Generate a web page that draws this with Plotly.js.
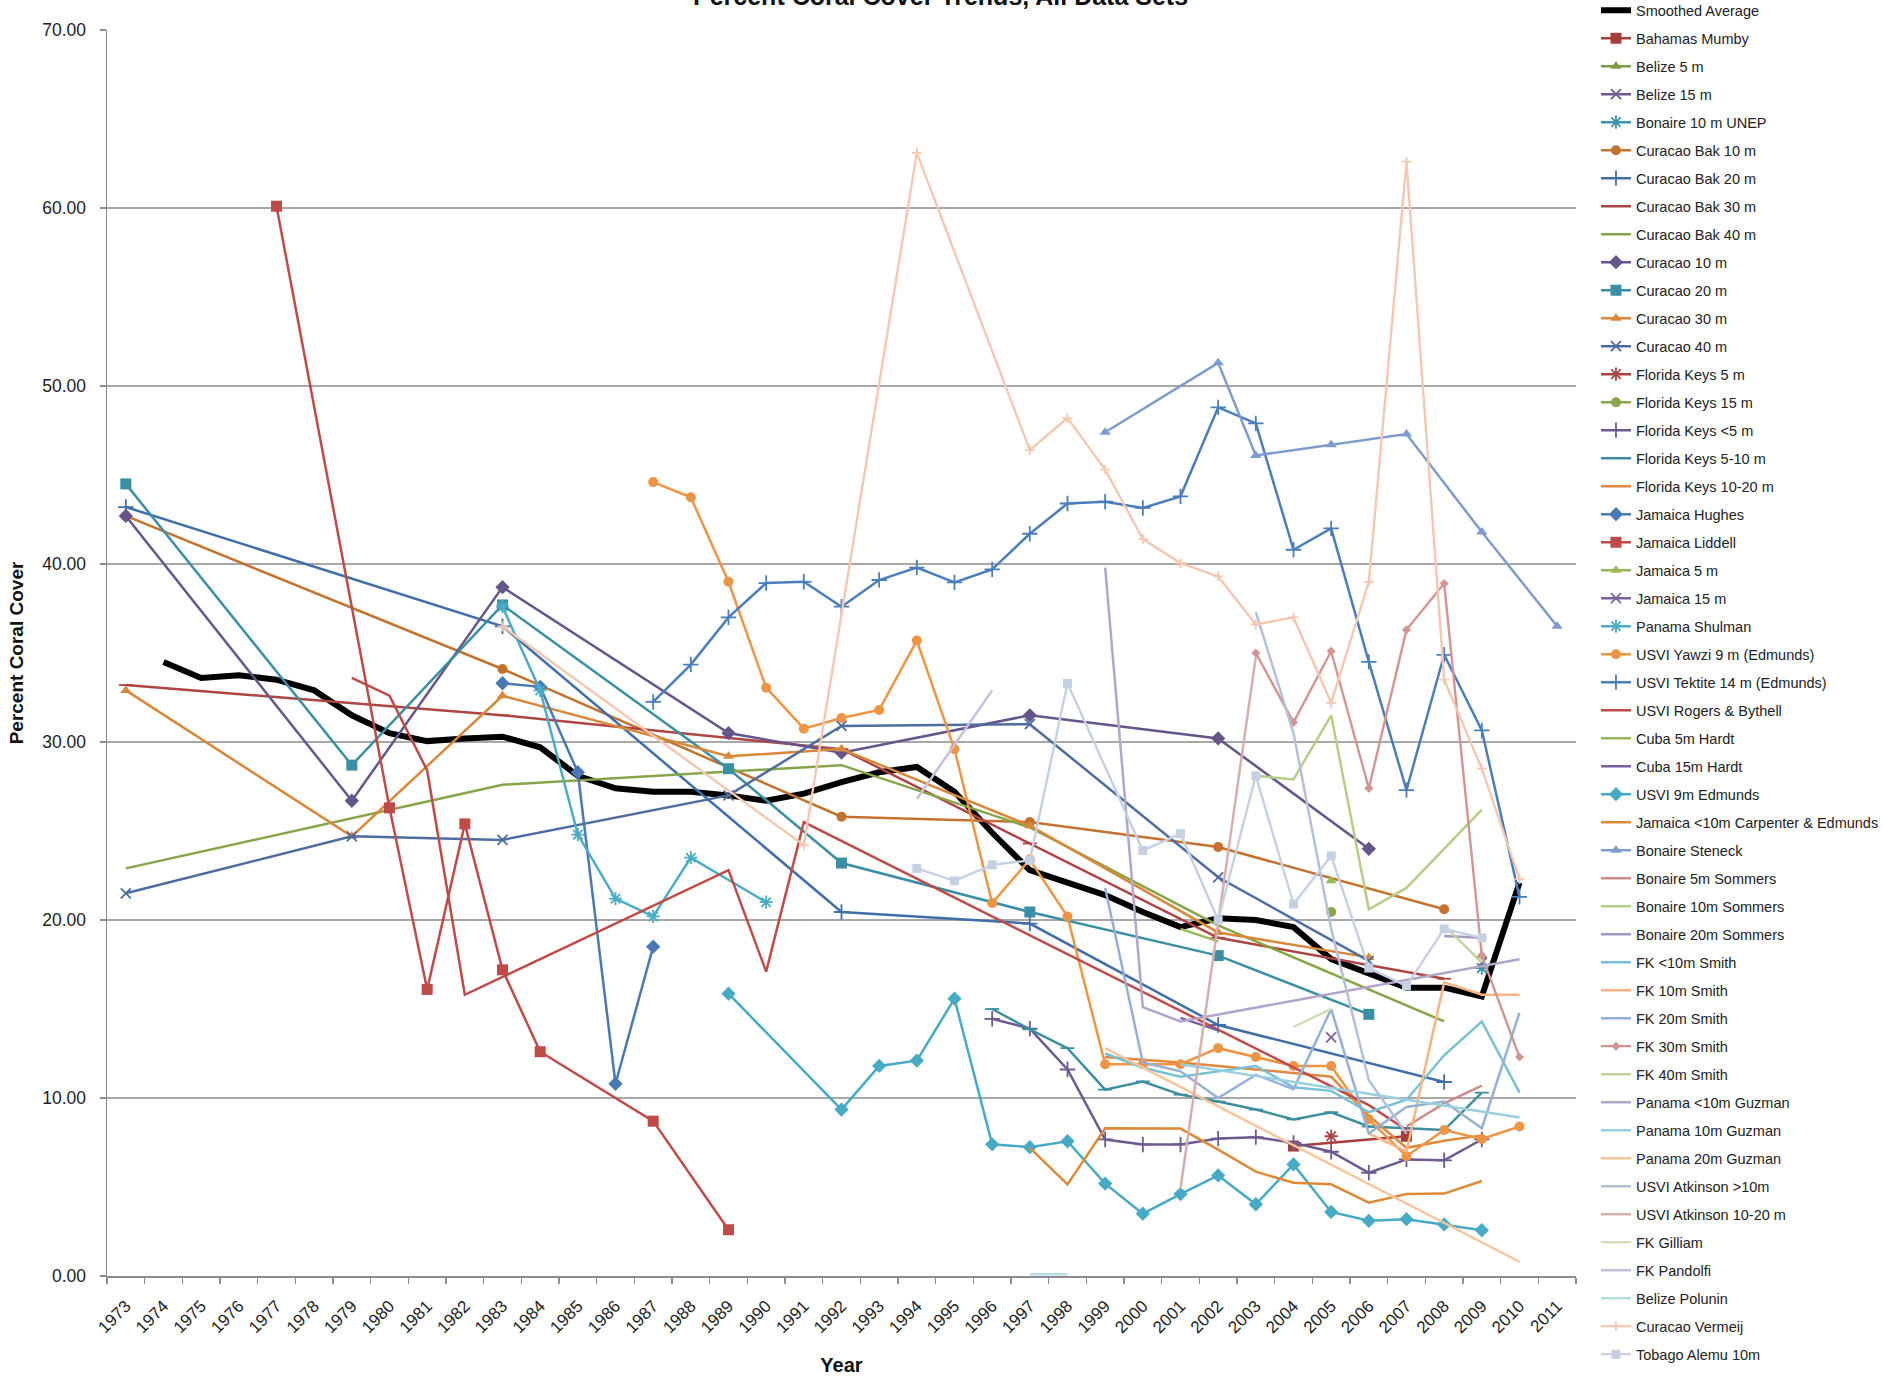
<!DOCTYPE html>
<html>
<head>
<meta charset="utf-8">
<script src="https://cdn.plot.ly/plotly-3.0.1.min.js"></script>
<style>html,body{margin:0;padding:0;background:#fff;}#chart{width:1883px;height:1376px;}</style>
</head>
<body>
<div id="chart"></div>
<script>
// ---- Category (tick) labels ----
const YEARS = ['1973','1974','1975','1976','1977','1978','1979','1980','1981','1982','1983','1984','1985','1986','1987','1988','1989','1990','1991','1992','1993','1994','1995','1996','1997','1998','1999','2000','2001','2002','2003','2004','2005','2006','2007','2008','2009','2010','2011'];

// ---- Series data (year, percent coral cover) ----
const smoothYears = [1974,1975,1976,1977,1978,1979,1980,1981,1982,1983,1984,1985,1986,1987,1988,1989,1990,1991,1992,1993,1994,1995,1996,1997,1998,1999,2000,2001,2002,2003,2004,2005,2006,2007,2008,2009,2010];
const smoothVals  = [34.5,33.6,33.75,33.5,32.9,31.5,30.5,30.05,30.2,30.3,29.7,28.1,27.4,27.2,27.2,27.0,26.7,27.1,27.75,28.3,28.6,27.2,24.9,22.8,22.1,21.4,20.45,19.6,20.1,20.0,19.6,17.8,17.0,16.2,16.2,15.7,22.1];

const bahamasYears = [2004,2007];
const bahamasVals  = [7.3,7.85];
const belize5Years = [2009];
const belize5Vals  = [18.0];
const belize15Years = [2009];
const belize15Vals  = [17.6];
const bonaireUnepYears = [2009];
const bonaireUnepVals  = [17.3];

const bak10Years = [1973,1983,1992,1997,2002,2008];
const bak10Vals  = [42.7,34.1,25.8,25.5,24.1,20.6];
const bak20Years = [1973,1983,1992,1997,2002,2008];
const bak20Vals  = [43.2,36.5,20.45,19.8,14.1,10.9];
const bak30Years = [1973,1983,1992,1997,2002,2008];
const bak30Vals  = [33.2,31.5,29.6,24.3,19.0,16.7];
const bak40Years = [1973,1983,1992,1997,2002,2008];
const bak40Vals  = [22.9,27.6,28.7,25.2,19.7,14.3];

const cur10Years = [1973,1979,1983,1989,1992,1997,2002,2006];
const cur10Vals  = [42.7,26.7,38.7,30.5,29.4,31.5,30.2,24.0];
const cur20Years = [1973,1979,1983,1989,1992,1997,2002,2006];
const cur20Vals  = [44.5,28.7,37.7,28.5,23.2,20.45,18.0,14.7];
const cur30Years = [1973,1979,1983,1989,1992,1997,2002,2006];
const cur30Vals  = [32.9,24.7,32.6,29.2,29.6,25.3,19.3,17.9];
const cur40Years = [1973,1979,1983,1989,1992,1997,2002,2006];
const cur40Vals  = [21.5,24.7,24.5,27.0,30.9,31.0,22.4,17.7];

const fk5Years = [2005];
const fk5Vals  = [7.85];
const fk15Years = [2005];
const fk15Vals  = [20.45];
const fkLt5Years = [1996,1997,1998,1999,2000,2001,2002,2003,2004,2005,2006,2007,2008,2009];
const fkLt5Vals  = [14.45,13.9,11.6,7.67,7.39,7.39,7.72,7.8,7.48,6.98,5.8,6.55,6.5,7.67];
const fk510Years = [1996,1997,1998,1999,2000,2001,2002,2003,2004,2005,2006,2007,2008,2009];
const fk510Vals  = [15.0,13.86,12.8,10.47,10.93,10.19,9.8,9.35,8.8,9.2,8.4,8.3,8.2,10.3];
const fk1020Years = [1999,2001,2003,2005,2006,2007,2008,2009];
const fk1020Vals  = [12.3,12.0,11.6,11.2,9.0,7.2,7.6,7.9];

const hughesYears = [1983,1984,1985,1986,1987];
const hughesVals  = [33.3,33.1,28.3,10.8,18.5];
const liddellYears = [1977,1980,1981,1982,1983,1984,1987,1989];
const liddellVals  = [60.1,26.3,16.1,25.4,17.2,12.6,8.7,2.6];
const jam5Years = [2005];
const jam5Vals  = [22.2];
const jam15Years = [2005];
const jam15Vals  = [13.4];
const shulmanYears = [1983,1984,1985,1986,1987,1988,1990];
const shulmanVals  = [37.6,32.9,24.8,21.2,20.2,23.5,21.0];

const yawziYears = [1987,1988,1989,1990,1991,1992,1993,1994,1995,1996,1997,1998,1999,2000,2001,2002,2003,2004,2005,2006,2007,2008,2009,2010];
const yawziVals  = [44.6,43.75,39.0,33.05,30.75,31.35,31.8,35.7,29.6,20.95,23.4,20.2,11.9,11.9,11.9,12.8,12.3,11.8,11.8,8.8,6.73,8.2,7.7,8.4];
const tektiteYears = [1987,1988,1989,1990,1991,1992,1993,1994,1995,1996,1997,1998,1999,2000,2001,2002,2003,2004,2005,2006,2007,2008,2009,2010];
const tektiteVals  = [32.25,34.35,37.0,38.93,39.0,37.6,39.1,39.8,38.97,39.7,41.7,43.4,43.5,43.15,43.8,48.8,47.9,40.8,42.0,34.5,27.3,34.9,30.65,21.3];
const rogersYears = [1979,1980,1981,1982,1989,1990,1991,2006,2007];
const rogersVals  = [33.6,32.6,28.4,15.8,22.8,17.1,25.5,9.6,8.2];
const cuba5Years = [2001,2002];
const cuba5Vals  = [19.5,18.8];
const cuba15Years = [2001,2002];
const cuba15Vals  = [14.5,13.8];
const usvi9Years = [1989,1992,1993,1994,1995,1996,1997,1998,1999,2000,2001,2002,2003,2004,2005,2006,2007,2008,2009];
const usvi9Vals  = [15.86,9.35,11.8,12.1,15.58,7.4,7.24,7.57,5.19,3.5,4.6,5.65,4.03,6.27,3.6,3.1,3.19,2.9,2.57];
const jamCarpYears = [1997,1998,1999,2000,2001,2002,2003,2004,2005,2006,2007,2008,2009];
const jamCarpVals  = [7.2,5.15,8.3,8.28,8.28,7.1,5.86,5.24,5.15,4.12,4.6,4.63,5.34];

const steneckYears = [1999,2002,2003,2005,2007,2009,2011];
const steneckVals  = [47.4,51.3,46.1,46.7,47.3,41.8,36.5];
const bon5Years = [2007,2008,2009];
const bon5Vals  = [8.4,9.7,10.7];
const bon10Years = [2003,2004,2005,2006,2007,2009];
const bon10Vals  = [28.1,27.9,31.5,20.6,21.8,26.2];
const bon20Years = [2008,2009];
const bon20Vals  = [19.1,19.0];

const fkLt10Years = [1999,2000,2001,2002,2003,2004,2005,2006,2007,2008,2009,2010];
const fkLt10Vals  = [12.5,11.7,11.2,11.5,11.8,10.6,10.4,9.2,9.9,12.4,14.3,10.3];
const fk10Years = [2006,2007,2008,2009,2010];
const fk10Vals  = [8.0,7.0,16.5,15.8,15.8];
const fk20Years = [1999,2000,2001,2002,2003,2004,2005,2006,2007,2008,2009,2010];
const fk20Vals  = [21.8,12.0,11.5,10.0,11.3,10.5,15.0,8.0,9.5,9.8,8.3,14.8];
const fk30Years = [2003,2004,2005,2006,2007,2008,2009,2010];
const fk30Vals  = [35.0,31.1,35.1,27.4,36.3,38.9,18.0,12.3];
const fk40Years = [2008,2009];
const fk40Vals  = [19.7,17.6];

const panLt10Years = [1999,2000,2001,2010];
const panLt10Vals  = [39.8,15.1,14.3,17.8];
const pan10Years = [2001,2010];
const pan10Vals  = [11.9,8.9];
const pan20Years = [1999,2010];
const pan20Vals  = [12.8,0.8];
const atkGt10Years = [2003,2004,2005,2006,2007];
const atkGt10Vals  = [37.3,30.5,19.5,11.0,8.0];
const atk1020Years = [2001,2003];
const atk1020Vals  = [4.9,34.8];
const gilliamYears = [2004,2005];
const gilliamVals  = [14.0,15.0];
const pandolfiYears = [1994,1996];
const pandolfiVals  = [26.8,32.9];
const poluninYears = [1997,1998];
const poluninVals  = [0.1,0.1];
const vermeijYears = [1983,1991,1994,1997,1998,1999,2000,2001,2002,2003,2004,2005,2006,2007,2008,2009,2010];
const vermeijVals  = [36.5,24.2,63.1,46.4,48.2,45.3,41.4,40.05,39.3,36.6,37.0,32.2,39.0,62.6,33.5,28.5,22.3];
const tobagoYears = [1994,1995,1996,1997,1998,2000,2001,2002,2003,2004,2005,2006,2007,2008,2009];
const tobagoVals  = [22.9,22.2,23.1,23.35,33.3,23.9,24.85,20.0,28.1,20.9,23.6,17.3,16.3,19.5,19.0];

// ---- Series definitions: name, years, values, colour, marker symbol, line width, marker size ----
const FONT = 'Liberation Sans, Arial, sans-serif';
const S = [
  ['Smoothed Average', smoothYears, smoothVals, '#000000', null, 6],
  ['Bahamas Mumby', bahamasYears, bahamasVals, '#A63E3C', 'square'],
  ['Belize 5 m', belize5Years, belize5Vals, '#7F9A45', 'triangle-up'],
  ['Belize 15 m', belize15Years, belize15Vals, '#6F5A92', 'x-thin-open'],
  ['Bonaire 10 m UNEP', bonaireUnepYears, bonaireUnepVals, '#3A94AA', 'asterisk-open'],
  ['Curacao Bak 10 m', bak10Years, bak10Vals, '#C4722F', 'circle'],
  ['Curacao Bak 20 m', bak20Years, bak20Vals, '#416EA8', 'cross-thin-open'],
  ['Curacao Bak 30 m', bak30Years, bak30Vals, '#AD4542', 'line-ew-open'],
  ['Curacao Bak 40 m', bak40Years, bak40Vals, '#86A548', null],
  ['Curacao 10 m', cur10Years, cur10Vals, '#66558A', 'diamond'],
  ['Curacao 20 m', cur20Years, cur20Vals, '#3A8FA5', 'square'],
  ['Curacao 30 m', cur30Years, cur30Vals, '#D9883A', 'triangle-up'],
  ['Curacao 40 m', cur40Years, cur40Vals, '#4D6CA0', 'x-thin-open'],
  ['Florida Keys 5 m', fk5Years, fk5Vals, '#A84442', 'asterisk-open'],
  ['Florida Keys 15 m', fk15Years, fk15Vals, '#8AA64D', 'circle'],
  ['Florida Keys <5 m', fkLt5Years, fkLt5Vals, '#6C5A90', 'cross-thin-open'],
  ['Florida Keys 5-10 m', fk510Years, fk510Vals, '#3D8E9F', 'line-ew-open'],
  ['Florida Keys 10-20 m', fk1020Years, fk1020Vals, '#E0883E', null],
  ['Jamaica Hughes', hughesYears, hughesVals, '#4A78B5', 'diamond'],
  ['Jamaica Liddell', liddellYears, liddellVals, '#BE4B48', 'square'],
  ['Jamaica 5 m', jam5Years, jam5Vals, '#98B954', 'triangle-up'],
  ['Jamaica 15 m', jam15Years, jam15Vals, '#7D60A0', 'x-thin-open'],
  ['Panama Shulman', shulmanYears, shulmanVals, '#4BACC6', 'asterisk-open'],
  ['USVI Yawzi 9 m (Edmunds)', yawziYears, yawziVals, '#EE9445', 'circle'],
  ['USVI Tektite 14 m (Edmunds)', tektiteYears, tektiteVals, '#4A7EBB', 'cross-thin-open'],
  ['USVI Rogers & Bythell', rogersYears, rogersVals, '#BE4B48', null],
  ['Cuba 5m Hardt', cuba5Years, cuba5Vals, '#98B954', null],
  ['Cuba 15m Hardt', cuba15Years, cuba15Vals, '#7D60A0', null],
  ['USVI 9m Edmunds', usvi9Years, usvi9Vals, '#46AAC5', 'diamond'],
  ['Jamaica <10m Carpenter & Edmunds', jamCarpYears, jamCarpVals, '#DC8A38', null],
  ['Bonaire Steneck', steneckYears, steneckVals, '#7E9CCB', 'triangle-up'],
  ['Bonaire 5m Sommers', bon5Years, bon5Vals, '#CD8C8A', null],
  ['Bonaire 10m Sommers', bon10Years, bon10Vals, '#B5CE85', null],
  ['Bonaire 20m Sommers', bon20Years, bon20Vals, '#A596C2', null],
  ['FK <10m Smith', fkLt10Years, fkLt10Vals, '#78C1D3', null],
  ['FK 10m Smith', fk10Years, fk10Vals, '#F7B382', null],
  ['FK 20m Smith', fk20Years, fk20Vals, '#95B0D6', null],
  ['FK 30m Smith', fk30Years, fk30Vals, '#D29593', 'diamond', 2.4, 7],
  ['FK 40m Smith', fk40Years, fk40Vals, '#C1D69C', null],
  ['Panama <10m Guzman', panLt10Years, panLt10Vals, '#B3A5CA', null],
  ['Panama 10m Guzman', pan10Years, pan10Vals, '#9ACFDF', null],
  ['Panama 20m Guzman', pan20Years, pan20Vals, '#F9C49C', null],
  ['USVI Atkinson >10m', atkGt10Years, atkGt10Vals, '#B4BFD8', null],
  ['USVI Atkinson 10-20 m', atk1020Years, atk1020Vals, '#D6AFAE', null],
  ['FK Gilliam', gilliamYears, gilliamVals, '#D1DFB8', null],
  ['FK Pandolfi', pandolfiYears, pandolfiVals, '#C8BEDC', null],
  ['Belize Polunin', poluninYears, poluninVals, '#B6DCE6', null],
  ['Curacao Vermeij', vermeijYears, vermeijVals, '#F5C7B0', 'cross-thin-open', 2.4, 7],
  ['Tobago Alemu 10m', tobagoYears, tobagoVals, '#C5D0E3', 'square', 2.4, 9]
];

const DEFAULT_SIZE = {'square': 11, 'circle': 10, 'diamond': 11, 'triangle-up': 10,
                      'x-thin-open': 10, 'cross-thin-open': 11, 'asterisk-open': 11, 'line-ew-open': 10};

const traces = S.map(function (s) {
  const name = s[0], col = s[3], sym = s[4];
  const lw = s[5] || 2.5;
  const t = {
    type: 'scatter',
    name: name,
    legendgroup: name,
    x: s[1].map(String),
    y: s[2],
    mode: sym ? 'lines+markers' : 'lines',
    line: {color: col, width: lw},
    hoverinfo: 'name+x+y'
  };
  if (sym) {
    const open = sym.indexOf('open') >= 0;
    t.marker = {symbol: sym, size: s[6] || DEFAULT_SIZE[sym], color: col,
                line: {color: col, width: open ? 1.8 : 0}};
  }
  return t;
});

const layout = {
  width: 1883, height: 1376,
  margin: {l: 107, r: 307, t: 30, b: 100, autoexpand: false},
  paper_bgcolor: '#ffffff', plot_bgcolor: '#ffffff',
  font: {family: FONT, color: '#222222'},
  showlegend: true,
  annotations: [{
    text: 'Percent Coral Cover Trends, All Data Sets',
    xref: 'paper', yref: 'paper', x: 0.5677, y: 1.0276,
    xanchor: 'center', yanchor: 'middle', showarrow: false,
    font: {size: 25, weight: 'bold', color: '#111111', family: FONT}
  }],
  xaxis: {
    type: 'category', categoryorder: 'array', categoryarray: YEARS,
    range: [-0.5, YEARS.length - 0.5],
    tickson: 'boundaries', ticks: 'outside', ticklen: 6, tickcolor: '#8C8C8C', tickwidth: 1.3,
    ticklabelstandoff: 12,
    showline: true, linecolor: '#8C8C8C', linewidth: 1.5,
    showgrid: false, zeroline: false, tickangle: -45,
    tickfont: {size: 17, color: '#222222'},
    title: {text: 'Year', font: {size: 20, weight: 'bold', color: '#111111'}, standoff: 23},
    fixedrange: true
  },
  yaxis: {
    range: [0, 70], dtick: 10, tickformat: '.2f',
    showgrid: true, gridcolor: '#A8A8A8', gridwidth: 1.5,
    showline: true, linecolor: '#8C8C8C', linewidth: 1.5,
    ticks: 'outside', ticklen: 6, tickcolor: '#8C8C8C', tickwidth: 1.3,
    ticklabelstandoff: 10,
    zeroline: false,
    tickfont: {size: 17.5, color: '#222222'},
    title: {text: 'Percent Coral Cover', font: {size: 19, weight: 'bold', color: '#111111'}, standoff: 13},
    fixedrange: true
  },
  legend: {
    x: 1.0136, xanchor: 'left', y: 1.0287, yanchor: 'top',
    traceorder: 'grouped', tracegroupgap: 6.15,
    maxheight: 1376,
    font: {size: 14.5, color: '#222222', family: FONT},
    bgcolor: 'rgba(0,0,0,0)', borderwidth: 0, itemwidth: 30
  }
};

Plotly.newPlot('chart', traces, layout, {displayModeBar: false, staticPlot: true});
</script>
</body>
</html>
